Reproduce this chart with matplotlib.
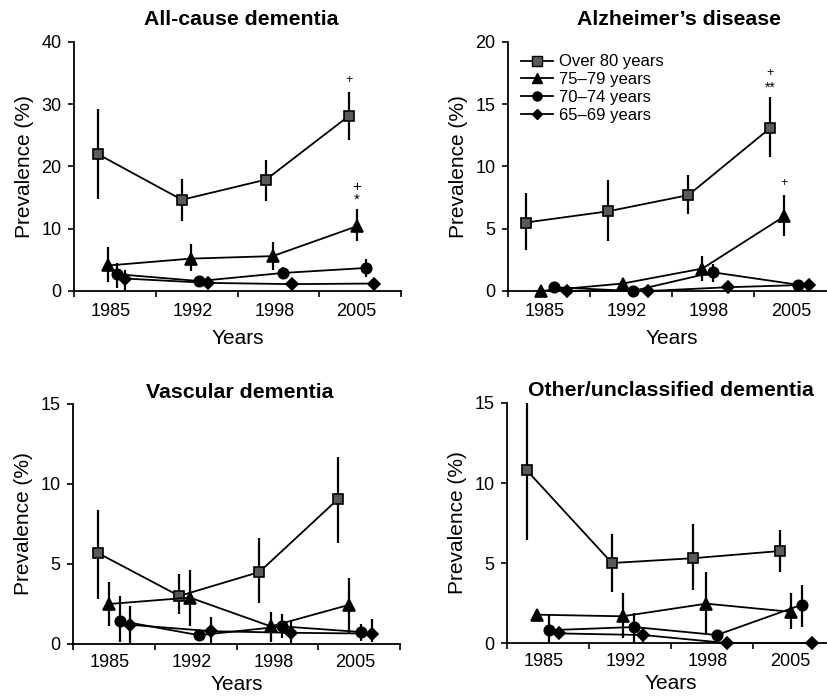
import numpy as np
import matplotlib
matplotlib.use("Agg")
import matplotlib.pyplot as plt
from matplotlib.lines import Line2D

plt.rcParams['font.family'] = ['Liberation Sans', 'DejaVu Sans']

years = ['1985', '1992', '1998', '2005']
series = ['Over 80 years', '75–79 years', '70–74 years', '65–69 years']

# --- All-cause dementia ---
ac_x = [[0.29, 1.32, 2.35, 3.36],
        [0.42, 1.43, 2.43, 3.46],
        [0.53, 1.53, 2.56, 3.57],
        [0.62, 1.64, 2.67, 3.67]]
ac_y = [[22.0, 14.65, 17.9, 28.1],
        [4.1, 5.2, 5.6, 10.4],
        [2.7, 1.6, 2.9, 3.7],
        [2.0, 1.3, 1.1, 1.2]]
ac_lo = [[14.8, 11.3, 14.5, 24.3],
         [1.4, 3.2, 3.3, 8.0],
         [0.5, 1.6, 2.0, 2.2],
         [0.0, 0.5, 0.7, 0.4]]
ac_hi = [[29.3, 18.0, 21.1, 32.0],
         [7.1, 7.5, 7.9, 13.2],
         [4.5, 1.6, 3.9, 5.2],
         [3.4, 2.2, 1.5, 1.8]]

# --- Alzheimer's disease ---
ad_x = [[0.22, 1.22, 2.20, 3.20],
        [0.40, 1.40, 2.37, 3.37],
        [0.56, 1.52, 2.50, 3.54],
        [0.72, 1.71, 2.68, 3.67]]
ad_y = [[5.5, 6.4, 7.7, 13.1],
        [0.0, 0.6, 1.8, 6.0],
        [0.3, 0.0, 1.5, 0.5],
        [0.0, 0.0, 0.3, 0.5]]
ad_lo = [[3.3, 4.0, 6.2, 10.8],
         [0.0, 0.6, 0.8, 4.4],
         [0.3, 0.0, 0.7, 0.2],
         [0.0, 0.0, 0.3, 0.5]]
ad_hi = [[7.9, 8.9, 9.3, 15.6],
         [0.0, 0.6, 2.8, 7.7],
         [0.3, 0.0, 2.2, 0.9],
         [0.0, 0.0, 0.3, 0.5]]

# --- Vascular dementia ---
vd_x = [[0.31, 1.30, 2.28, 3.24],
        [0.44, 1.43, 2.42, 3.38],
        [0.57, 1.54, 2.56, 3.52],
        [0.70, 1.69, 2.67, 3.66]]
vd_y = [[5.67, 3.0, 4.5, 9.05],
        [2.5, 2.9, 1.1, 2.45],
        [1.45, 0.55, 1.1, 0.75],
        [1.2, 0.8, 0.7, 0.65]]
vd_lo = [[2.8, 1.85, 2.55, 6.3],
         [1.1, 1.15, 0.15, 0.65],
         [0.15, 0.55, 0.35, 0.2],
         [0.0, 0.0, 0.0, 0.1]]
vd_hi = [[8.4, 4.35, 6.65, 11.7],
         [3.9, 4.6, 2.0, 4.15],
         [3.0, 0.55, 1.85, 1.25],
         [2.35, 1.7, 1.45, 1.55]]

# --- Other/unclassified dementia ---
od_x = [[0.24, 1.28, 2.27, 3.33],
        [0.37, 1.41, 2.43, 3.46],
        [0.51, 1.55, 2.56, 3.60],
        [0.63, 1.66, 2.68, 3.72]]
od_y = [[10.8, 5.0, 5.3, 5.75],
        [1.77, 1.67, 2.46, 1.95],
        [0.8, 1.0, 0.5, 2.4],
        [0.6, 0.5, 0.0, 0.0]]
od_lo = [[6.45, 3.2, 3.3, 4.45],
         [1.77, 0.3, 0.6, 0.9],
         [0.0, 0.0, 0.5, 1.0],
         [0.6, 0.0, 0.0, 0.0]]
od_hi = [[15.0, 6.8, 7.45, 7.05],
         [1.77, 3.1, 4.45, 3.1],
         [1.75, 1.9, 0.5, 3.6],
         [0.6, 1.0, 0.0, 0.0]]

markers = ['s', '^', 'o', 'D']
msizes = [7.5, 8, 7.5, 6]
mfaces = ['#5a5a5a', 'k', 'k', 'k']

panels = [
    dict(title='All-cause dementia', x=ac_x, y=ac_y, lo=ac_lo, hi=ac_hi,
         ylim=40, yticks=[0, 10, 20, 30, 40], xpad=9, lpad=6,
         rect=[0.0894, 0.5843, 0.3949, 0.3557], tpos=(0.51, 1.092)),
    dict(title='Alzheimer\u2019s disease', x=ad_x, y=ad_y, lo=ad_lo, hi=ad_hi,
         ylim=20, yticks=[0, 5, 10, 15, 20], xpad=9, lpad=6,
         rect=[0.6135, 0.5843, 0.3961, 0.3557], tpos=(0.52, 1.092)),
    dict(title='Vascular dementia', x=vd_x, y=vd_y, lo=vd_lo, hi=vd_hi,
         ylim=15, yticks=[0, 5, 10, 15], xpad=7, lpad=3,
         rect=[0.0882, 0.08, 0.3949, 0.3429], tpos=(0.51, 1.046)),
    dict(title='Other/unclassified dementia', x=od_x, y=od_y, lo=od_lo, hi=od_hi,
         ylim=15, yticks=[0, 5, 10, 15], xpad=7, lpad=3,
         rect=[0.6123, 0.0814, 0.3961, 0.3429], tpos=(0.50, 1.05)),
]

fig = plt.figure(figsize=(8.28, 7), dpi=100)
axes = []
for p in panels:
    ax = fig.add_axes(p['rect'])
    axes.append(ax)
    for i in range(4):
        x = np.array(p['x'][i])
        y = np.array(p['y'][i])
        err = [y - np.array(p['lo'][i]), np.array(p['hi'][i]) - y]
        ax.errorbar(x, y, yerr=err, fmt='-', color='k', lw=1.3,
                    elinewidth=1.6, capsize=0, marker=markers[i],
                    ms=msizes[i], mfc=mfaces[i], mec='k', mew=1.2,
                    clip_on=False, zorder=3)
    ax.set_xlim(0, 4)
    ax.set_ylim(0, p['ylim'])
    ax.set_yticks(p['yticks'])
    ax.set_xticks([0, 1, 2, 3, 4])
    ax.set_xticklabels([])
    ax.set_xticks(np.arange(4) + 0.45, minor=True)
    ax.set_xticklabels(years, minor=True)
    ax.tick_params(axis='x', which='minor', length=0, pad=p['xpad'], labelsize=13)
    ax.tick_params(axis='x', which='major', direction='out', length=4, width=1.2)
    ax.tick_params(axis='y', direction='out', length=4, width=1.2, pad=5, labelsize=13)
    for s in ['top', 'right']:
        ax.spines[s].set_visible(False)
    for s in ['left', 'bottom']:
        ax.spines[s].set_linewidth(1.3)
    ax.set_xlabel('Years', fontsize=15, labelpad=p['lpad'])
    ax.set_ylabel('Prevalence (%)', fontsize=15, labelpad=5)
    ax.text(p['tpos'][0], p['tpos'][1], p['title'], transform=ax.transAxes,
            ha='center', va='center', fontsize=15.3, fontweight='bold')

# significance marks
ax = axes[0]
ax.text(3.36, 33.9, '+', ha='center', va='center', fontsize=9)
ax.text(3.46, 16.7, '+', ha='center', va='center', fontsize=11)
ax.text(3.46, 14.7, '*', ha='center', va='center', fontsize=11)
ax = axes[1]
ax.text(3.20, 17.5, '+', ha='center', va='center', fontsize=9)
ax.text(3.20, 16.3, '**', ha='center', va='center', fontsize=10)
ax.text(3.37, 8.7, '+', ha='center', va='center', fontsize=9)

handles = [Line2D([], [], color='k', lw=1.3, marker=markers[i],
                  ms=msizes[i] - 1, mfc=mfaces[i], mec='k')
           for i in range(4)]
axes[1].legend(handles, series, loc='upper left', bbox_to_anchor=(0.04, 0.95),
               frameon=False, borderpad=0, borderaxespad=0, handlelength=1.9,
               handletextpad=0.4, labelspacing=0.17, fontsize=12)

fig.savefig('out.png', dpi=100)
